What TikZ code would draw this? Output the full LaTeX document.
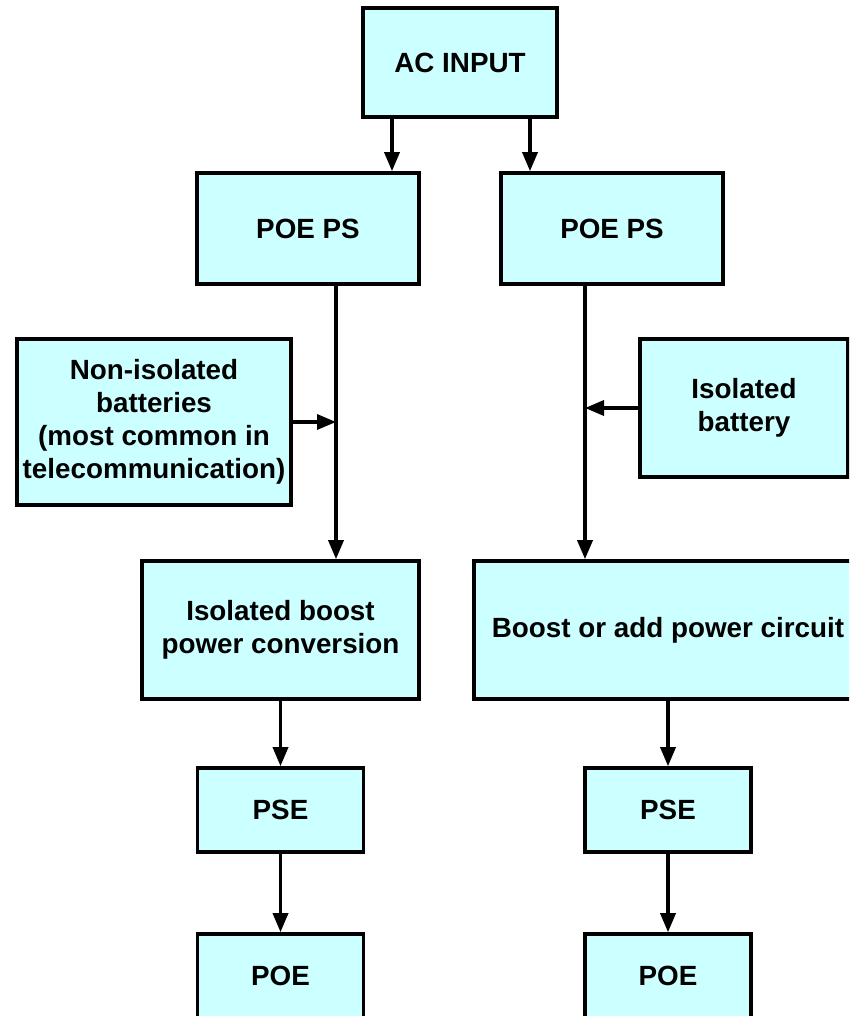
\documentclass[tikz,border=0pt]{standalone}
\usepackage{fontspec}
\setmainfont{Liberation Sans}
\usetikzlibrary{arrows.meta}
\definecolor{boxCyan}{RGB}{204, 255, 255}

\tikzset{
  block/.style={draw, fill=boxCyan, line width=3.6pt, inner sep=0pt, align=center,
    font=\fontsize{27.8}{33}\selectfont\bfseries},
  feed/.style={line width=3.4pt, -{Triangle[length=19pt,width=15pt]}}
}

\begin{document}
\begin{tikzpicture}[x=1pt, y=-1pt]
  \useasboundingbox (0,0) rectangle (849,1016);
  \clip (0,0) rectangle (849,1016);

  % top
  \node[block, minimum width=194pt, minimum height=109pt] (acin) at (460,62.5) {AC INPUT};
  \node[block, minimum width=222pt, minimum height=111pt] (psl) at (308,228.5) {POE PS};
  \node[block, minimum width=222pt, minimum height=111pt] (psr) at (612,228.5) {POE PS};

  % batteries
  \node[block, minimum width=274pt, minimum height=166pt] (noniso) at (154,422)
    {Non-isolated\\batteries\\(most common in\\telecommunication)};
  \node[block, minimum width=208pt, minimum height=138pt] (isobat) at (744,408)
    {Isolated\\battery};

  % conversion
  \node[block, minimum width=277pt, minimum height=138pt] (isob) at (280.5,630)
    {Isolated boost\\power conversion};
  \node[block, minimum width=388pt, minimum height=138pt] (boostr) at (668,630)
    {Boost or add power circuit};

  % outputs
  \node[block, minimum width=166pt, minimum height=84pt] (psel) at (280.5,810) {PSE};
  \node[block, minimum width=166pt, minimum height=84pt] (pser) at (668,810) {PSE};
  \node[block, minimum width=166pt, minimum height=84pt] (poel) at (280.5,976) {POE};
  \node[block, minimum width=166pt, minimum height=84pt] (poer) at (668,976) {POE};

  \coordinate (jl) at ([xshift=28pt]psl.south);
  \coordinate (jr) at ([xshift=-27pt]psr.south);

  \draw[feed] ([xshift=-68pt]acin.south) -- ([xshift=-68pt]acin.south |- psl.north);
  \draw[feed] ([xshift=70pt]acin.south) -- ([xshift=70pt]acin.south |- psr.north);

  \draw[feed] (jl) -- (jl |- isob.north);
  \draw[feed] (noniso.east) -- (noniso.east -| jl);
  \draw[feed] (jr) -- (jr |- boostr.north);
  \draw[feed] (isobat.west) -- (isobat.west -| jr);

  \draw[feed] (isob.south) -- (psel.north);
  \draw[feed] (psel.south) -- (poel.north);
  \draw[feed] (boostr.south) -- (pser.north);
  \draw[feed] (pser.south) -- (poer.north);
\end{tikzpicture}
\end{document}
